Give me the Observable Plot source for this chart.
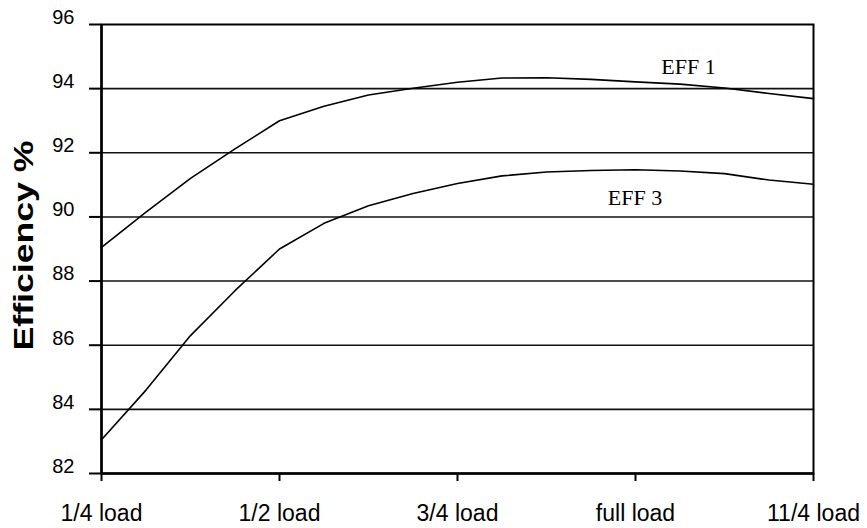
<!DOCTYPE html>
<html>
<head>
<meta charset="utf-8">
<script src="https://cdn.jsdelivr.net/npm/d3@7"></script>
<script src="https://cdn.jsdelivr.net/npm/@observablehq/plot@0.6"></script>
<style>
  html, body { margin: 0; padding: 0; background: #fff; }
</style>
</head>
<body>
<div id="chart"></div>
<script>
// Load points (fraction of full load)
const loads = [0.25, 0.3125, 0.375, 0.4375, 0.5, 0.5625, 0.625, 0.6875, 0.75,
               0.8125, 0.875, 0.9375, 1.0, 1.0625, 1.125, 1.1875, 1.25];
// Efficiency series (%)
const eff1 = [89.05, 90.15, 91.2, 92.12, 93.0, 93.45, 93.8, 94.01, 94.2,
              94.33, 94.34, 94.29, 94.21, 94.14, 94.02, 93.85, 93.69];
const eff3 = [83.05, 84.6, 86.3, 87.7, 89.0, 89.8, 90.35, 90.73, 91.04,
              91.28, 91.4, 91.45, 91.47, 91.43, 91.35, 91.15, 91.02];
const seriesNames = ["EFF 1", "EFF 3"];
// Axis ticks
const xTickValues = [0.25, 0.5, 0.75, 1.0, 1.25];
const xTickLabels = ["1/4 load", "1/2 load", "3/4 load", "full load", "11/4 load"];
const yTicks = [82, 84, 86, 88, 90, 92, 94, 96];
const gridValues = [84, 86, 88, 90, 92, 94];
const yTitle = "Efficiency %";

const rows = [];
loads.forEach((l, i) => {
  rows.push({series: seriesNames[0], load: l, eff: eff1[i]});
  rows.push({series: seriesNames[1], load: l, eff: eff3[i]});
});
const label1 = [{series: seriesNames[0], load: loads[13], eff: eff1[13]}];
const label3 = [{series: seriesNames[1], load: loads[12], eff: eff3[12]}];

const sans = '"Liberation Sans", Arial, sans-serif';
const serif = '"Liberation Serif", "Times New Roman", serif';

const chart = Plot.plot({
  width: 867,
  height: 528,
  marginLeft: 101,
  marginRight: 54,
  marginTop: 24,
  marginBottom: 55,
  style: {fontFamily: sans, background: "white", color: "black", overflow: "visible"},
  x: {domain: [0.25, 1.25]},
  y: {domain: [82, 96]},
  marks: [
    Plot.ruleY(gridValues, {stroke: "#111", strokeWidth: 1.6}),
    Plot.frame({stroke: "black", strokeWidth: 2}),
    Plot.axisY({ticks: yTicks, tickSize: 12, tickFormat: () => "", label: null, strokeWidth: 2}),
    Plot.axisY({ticks: yTicks, tickSize: 0, tickPadding: 27, dy: -7, fontSize: 20, label: null}),
    Plot.axisX({ticks: xTickValues, tickSize: 8, tickFormat: () => "", label: null, strokeWidth: 2}),
    Plot.axisX({ticks: xTickValues, tickSize: 0, tickPadding: 31,
                tickFormat: (d) => xTickLabels[xTickValues.indexOf(d)], fontSize: 23, label: null}),
    Plot.ruleX([0.25], {stroke: "black", strokeWidth: 2.5}),
    Plot.ruleY([82], {stroke: "black", strokeWidth: 2.5}),
    Plot.line(rows, {x: "load", y: "eff", z: "series", stroke: "black", strokeWidth: 1.6}),
    Plot.text(label1, {x: "load", y: "eff", text: "series", dx: 8.5, dy: -17,
      fontFamily: serif, fontSize: 22, fill: "black"}),
    Plot.text(label3, {x: "load", y: "eff", text: "series", dx: -0.5, dy: 28,
      fontFamily: serif, fontSize: 22, fill: "black"}),
    Plot.text([yTitle], {text: (d) => d, frameAnchor: "left", dx: -77.5, dy: 101.5, rotate: -90,
      textAnchor: "start", fontSize: 28, fontWeight: "bold", fill: "black"})
  ]
});

chart.querySelectorAll("text").forEach((t) => {
  if (t.textContent === yTitle) {
    t.setAttribute("textLength", 210);
    t.setAttribute("lengthAdjust", "spacingAndGlyphs");
  }
});

document.getElementById("chart").appendChild(chart);
</script>
</body>
</html>
